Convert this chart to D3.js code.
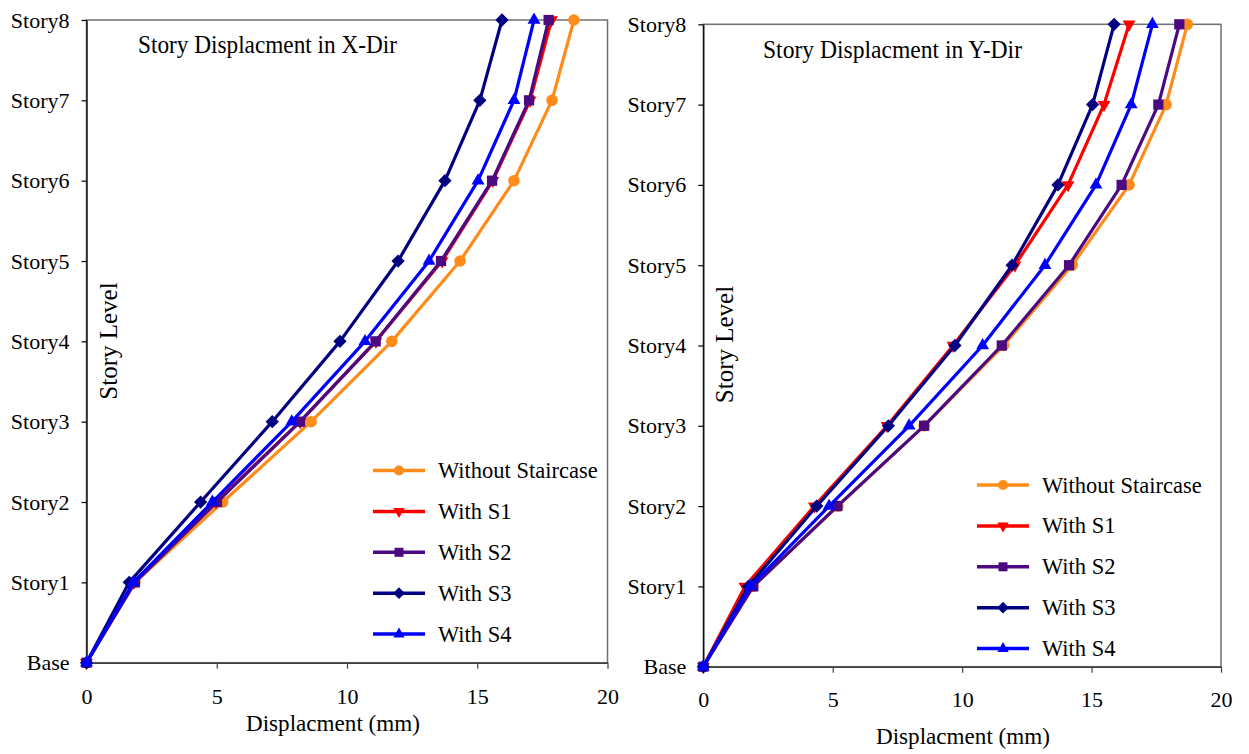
<!DOCTYPE html>
<html>
<head>
<meta charset="utf-8">
<script src="https://cdn.jsdelivr.net/npm/d3@7/dist/d3.min.js"></script>
<style>
  html, body { margin: 0; padding: 0; background: #fff; }
  svg { display: block; }
  text { font-family: "Liberation Serif", "Times New Roman", serif; fill: #000; }
</style>
</head>
<body>
<svg id="chart" width="1249" height="754"></svg>
<script>
// ---------- DATA ----------
const storyLabels = ["Base", "Story1", "Story2", "Story3", "Story4", "Story5", "Story6", "Story7", "Story8"];
const xTickValues = [0, 5, 10, 15, 20];
const seriesNames = ["Without Staircase", "With S1", "With S2", "With S3", "With S4"];

// Story displacement in X-direction (mm), Base..Story8
const xWithout = [0, 1.86, 5.23, 8.62, 11.72, 14.34, 16.41, 17.87, 18.71];
const xS1      = [0, 1.82, 4.97, 8.20, 11.11, 13.65, 15.60, 17.03, 17.85];
const xS2      = [0, 1.86, 5.01, 8.20, 11.10, 13.61, 15.57, 16.99, 17.74];
const xS3      = [0, 1.64, 4.38, 7.13, 9.73, 11.96, 13.76, 15.10, 15.95];
const xS4      = [0, 1.80, 4.83, 7.88, 10.69, 13.15, 15.03, 16.41, 17.18];

// Story displacement in Y-direction (mm), Base..Story8
const yWithout = [0, 1.92, 5.20, 8.53, 11.60, 14.25, 16.45, 17.88, 18.70];
const yS1      = [0, 1.61, 4.29, 7.10, 9.65, 12.04, 14.09, 15.48, 16.45];
const yS2      = [0, 1.93, 5.18, 8.53, 11.53, 14.13, 16.16, 17.58, 18.39];
const yS3      = [0, 1.74, 4.38, 7.15, 9.72, 11.93, 13.70, 15.04, 15.87];
const yS4      = [0, 1.83, 4.86, 7.95, 10.79, 13.20, 15.17, 16.53, 17.35];

// ---------- STYLE ----------
const seriesColors = ["#FF8C1A", "#FF0000", "#4B0A82", "#000080", "#0000FF"];
const seriesMarkers = ["circle", "triDown", "square", "diamond", "triUp"];

const svg = d3.select("#chart");
const FONT = "\"Liberation Serif\", \"Times New Roman\", serif";

function markerPath(kind, scale) {
  const s = scale || 1;
  switch (kind) {
    case "circle": return { d: d3.symbol(d3.symbolCircle, 105 * s * s)(), rot: 0 };
    case "square": return { d: d3.symbol(d3.symbolSquare, 105 * s * s)(), rot: 0 };
    case "diamond": return { d: d3.symbol(d3.symbolSquare, 88 * s * s)(), rot: 45 };
    case "triUp": return { d: d3.symbol(d3.symbolTriangle, 72 * s * s)(), rot: 0 };
    case "triDown": return { d: d3.symbol(d3.symbolTriangle, 72 * s * s)(), rot: 180 };
  }
}

function drawPanel(cfg) {
  const g = svg.append("g");
  const x = d3.scaleLinear().domain([0, 20]).range([cfg.x0, cfg.x1]);
  const y = d3.scaleLinear().domain([0, 8]).range([cfg.yBot, cfg.yTop]);

  // frame
  g.append("rect")
    .attr("x", cfg.x0).attr("y", cfg.yTop)
    .attr("width", cfg.x1 - cfg.x0).attr("height", cfg.yBot - cfg.yTop)
    .attr("fill", "none").attr("stroke", "#707070").attr("stroke-width", 1.5);

  // x axis
  const xa = g.append("g").attr("transform", `translate(0,${cfg.yBot})`)
    .attr("font-family", FONT)
    .call(d3.axisBottom(x).tickValues(xTickValues).tickFormat(d3.format("d"))
      .tickSize(6).tickSizeOuter(0).tickPadding(cfg.xPad));
  xa.attr("font-family", FONT);
  xa.select(".domain").attr("stroke", "#404040").attr("stroke-width", 1.5);
  xa.selectAll(".tick line").attr("stroke", "#404040").attr("stroke-width", 1.2);
  xa.selectAll("text").style("font-family", FONT).style("font-size", "22px").attr("fill", "#000");

  // y axis
  const ya = g.append("g").attr("transform", `translate(${cfg.x0},0)`)
    .call(d3.axisLeft(y).tickValues(d3.range(storyLabels.length)).tickFormat(i => storyLabels[i])
      .tickSize(5).tickSizeOuter(0).tickPadding(12));
  ya.attr("font-family", FONT);
  ya.select(".domain").attr("stroke", "#000").attr("stroke-width", 1.3);
  ya.selectAll(".tick line").attr("stroke", "#000").attr("stroke-width", 1.2);
  ya.selectAll("text").style("font-family", FONT).style("font-size", "22px").attr("fill", "#000");

  // series
  const line = d3.line().x(d => x(d.v)).y(d => y(d.i));
  cfg.series.forEach((vals, si) => {
    const pts = vals.map((v, i) => ({ v, i }));
    g.append("path").datum(pts)
      .attr("d", line).attr("fill", "none")
      .attr("stroke", seriesColors[si]).attr("stroke-width", 3.2)
      .attr("stroke-linejoin", "round");
    const m = markerPath(seriesMarkers[si], 1);
    g.selectAll(null).data(pts).enter().append("path")
      .attr("d", m.d)
      .attr("transform", d => `translate(${x(d.v)},${y(d.i)}) rotate(${m.rot})`)
      .attr("fill", seriesColors[si]);
  });

  // titles
  g.append("text").attr("x", cfg.titleX).attr("y", cfg.titleY)
    .style("font-size", "26px")
    .attr("textLength", 259).attr("lengthAdjust", "spacingAndGlyphs")
    .text(cfg.title);

  g.append("text").attr("x", cfg.xTitleX).attr("y", cfg.xTitleY)
    .attr("text-anchor", "middle")
    .style("font-size", "23px")
    .attr("textLength", 174).attr("lengthAdjust", "spacingAndGlyphs")
    .text("Displacment (mm)");

  g.append("text")
    .attr("transform", `translate(${cfg.yTitleX},${cfg.yTitleY}) rotate(-90)`)
    .attr("text-anchor", "middle")
    .style("font-size", "25px")
    .text("Story Level");

  // legend
  const lg = g.append("g");
  seriesNames.forEach((name, si) => {
    const cy = cfg.legendY0 + si * 40.9;
    lg.append("line")
      .attr("x1", cfg.legendX).attr("x2", cfg.legendX + 52)
      .attr("y1", cy).attr("y2", cy)
      .attr("stroke", seriesColors[si]).attr("stroke-width", 3.5);
    const m = markerPath(seriesMarkers[si], 0.88);
    lg.append("path").attr("d", m.d)
      .attr("transform", `translate(${cfg.legendX + 26},${cy}) rotate(${m.rot})`)
      .attr("fill", seriesColors[si]);
    lg.append("text")
      .attr("x", cfg.legendX + 65).attr("y", cy + 7.5)
      .style("font-size", "22.5px")
      .text(name);
  });
}

drawPanel({
  x0: 86.5, x1: 607.5, yTop: 20, yBot: 662.7, xPad: 19.5,
  series: [xWithout, xS1, xS2, xS3, xS4],
  title: "Story Displacment in X-Dir", titleX: 138, titleY: 53,
  xTitleX: 333, xTitleY: 731,
  yTitleX: 116.5, yTitleY: 341,
  legendX: 373, legendY0: 470.5
});

drawPanel({
  x0: 703.3, x1: 1221, yTop: 24.3, yBot: 666.7, xPad: 18.7,
  series: [yWithout, yS1, yS2, yS3, yS4],
  title: "Story Displacment in Y-Dir", titleX: 763, titleY: 58,
  xTitleX: 963, xTitleY: 744,
  yTitleX: 733, yTitleY: 344.5,
  legendX: 977, legendY0: 485
});
</script>
</body>
</html>
